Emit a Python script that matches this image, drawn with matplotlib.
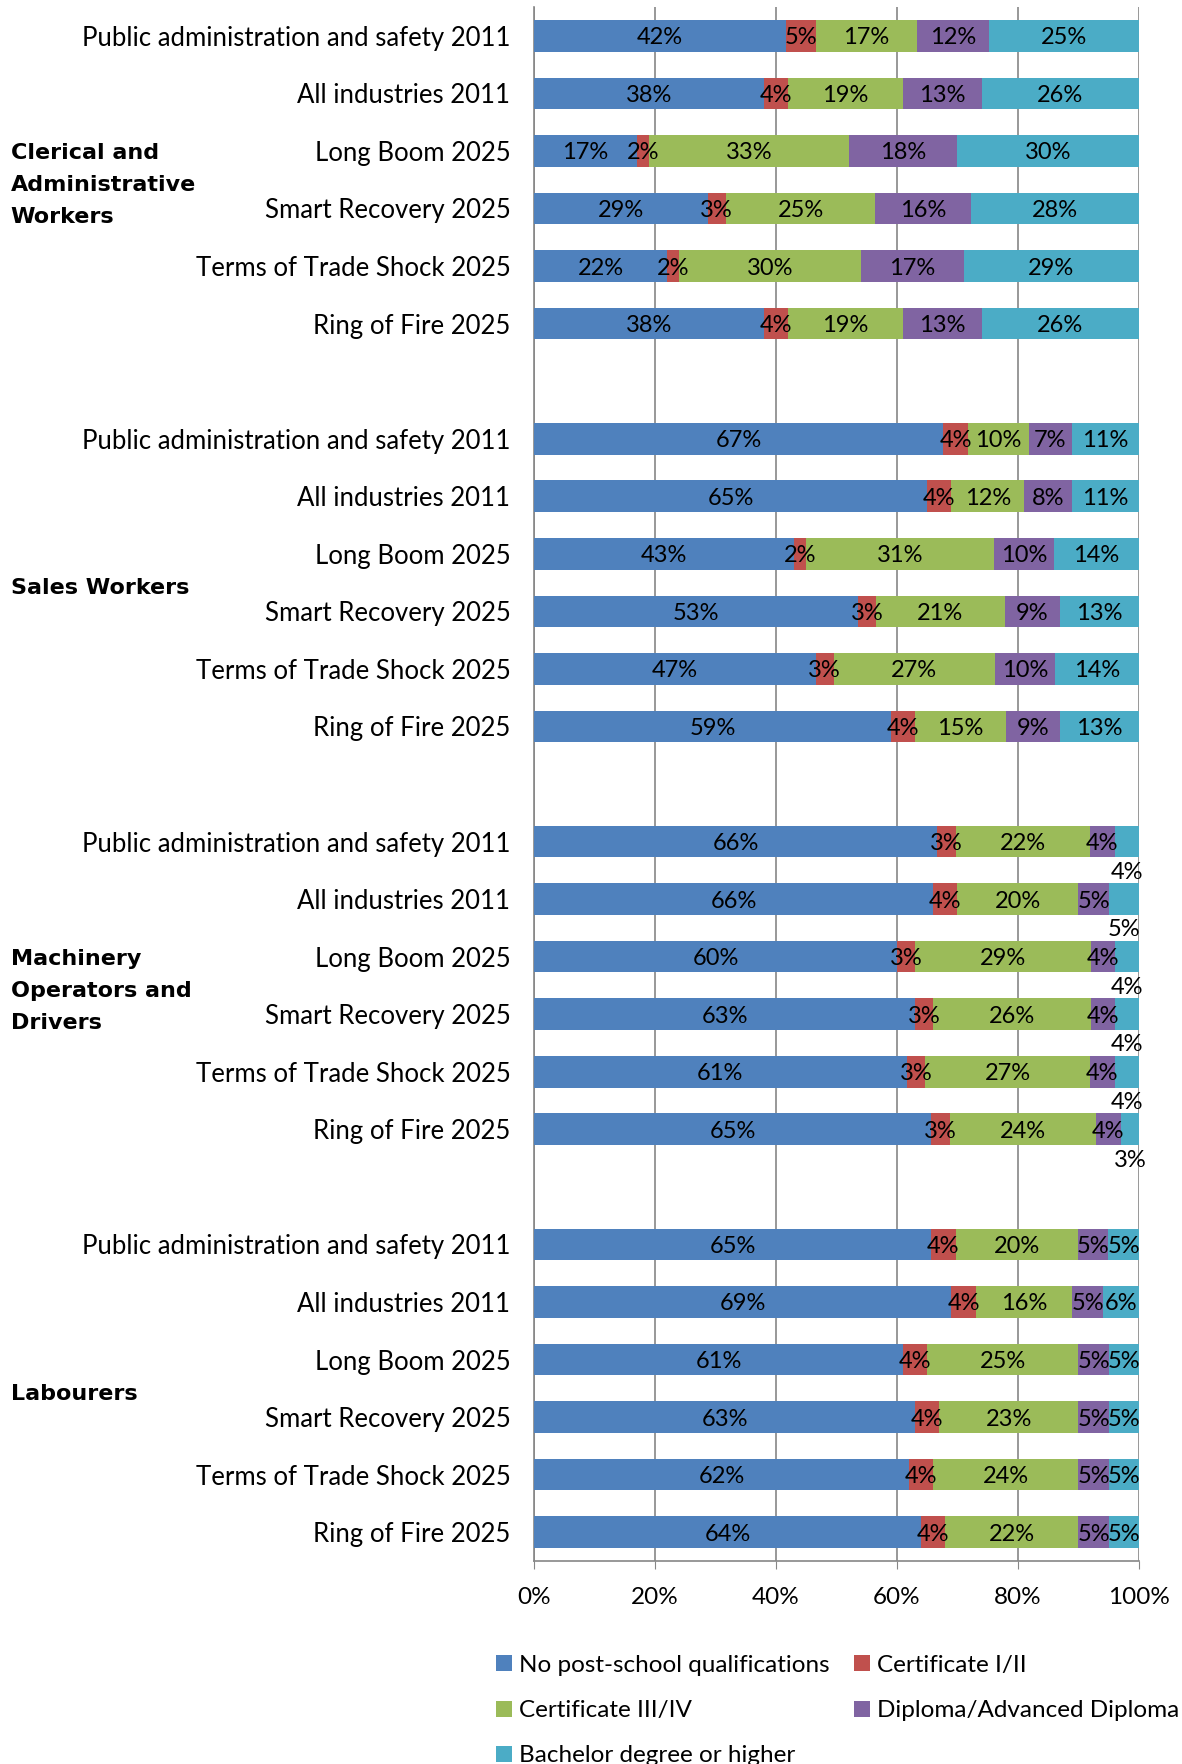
import numpy as np
import matplotlib
matplotlib.use("Agg")
import matplotlib.pyplot as plt

# categories and data (percent labels)
groups = ["Clerical and\nAdministrative\nWorkers", "Sales Workers",
          "Machinery\nOperators and\nDrivers", "Labourers"]
scenarios = ["Public administration and safety 2011", "All industries 2011",
             "Long Boom 2025", "Smart Recovery 2025",
             "Terms of Trade Shock 2025", "Ring of Fire 2025"]
series = ["No post-school qualifications", "Certificate I/II",
          "Certificate III/IV", "Diploma/Advanced Diploma",
          "Bachelor degree or higher"]
colors = ["#4F81BD", "#C0504D", "#9BBB59", "#8064A2", "#4BACC6"]

clerical = [[42, 5, 17, 12, 25],
            [38, 4, 19, 13, 26],
            [17, 2, 33, 18, 30],
            [29, 3, 25, 16, 28],
            [22, 2, 30, 17, 29],
            [38, 4, 19, 13, 26]]
sales = [[67, 4, 10, 7, 11],
         [65, 4, 12, 8, 11],
         [43, 2, 31, 10, 14],
         [53, 3, 21, 9, 13],
         [47, 3, 27, 10, 14],
         [59, 4, 15, 9, 13]]
machinery = [[66, 3, 22, 4, 4],
             [66, 4, 20, 5, 5],
             [60, 3, 29, 4, 4],
             [63, 3, 26, 4, 4],
             [61, 3, 27, 4, 4],
             [65, 3, 24, 4, 3]]
labourers = [[65, 4, 20, 5, 5],
             [69, 4, 16, 5, 6],
             [61, 4, 25, 5, 5],
             [63, 4, 23, 5, 5],
             [62, 4, 24, 5, 5],
             [64, 4, 22, 5, 5]]
all_data = [clerical, sales, machinery, labourers]

plt.rcParams['font.family'] = ['Lato', 'DejaVu Sans']

fig = plt.figure(figsize=(11.82, 17.64), dpi=100)
ax = fig.add_axes([0.4518, 0.1151, 0.5118, 0.8809])

fs_cat = 18.5
fs_val = 17
bar_h = 0.55
ypos_all = []
for g, data in enumerate(all_data):
    data = np.array(data, dtype=float)
    shares = data / data.sum(axis=1, keepdims=True)
    ys = np.arange(6) + g * 7
    ypos_all.extend(ys)
    left = np.zeros(6)
    for s in range(5):
        ax.barh(ys, shares[:, s], left=left, height=bar_h, color=colors[s],
                edgecolor="none", zorder=3, label=series[s] if g == 0 else None)
        for i in range(6):
            cx = left[i] + shares[i, s] / 2
            cy = ys[i]
            if g == 2 and s == 4:
                # small bachelor labels sit below the bar in this group
                cy = ys[i] + 0.5
            ax.text(cx, cy, f"{int(data[i, s])}%", ha="center",
                    va="center_baseline", fontsize=fs_val, color="black",
                    zorder=4)
        left += shares[:, s]
    # group label
    ax.text(-0.865, g * 7 + 2.6, groups[g], transform=ax.transData,
            ha="left", va="center", fontsize=16, fontweight="bold",
            family="DejaVu Sans", linespacing=1.75, clip_on=False)

ax.set_yticks(ypos_all)
ax.set_yticklabels(scenarios * 4, fontsize=fs_cat)
ax.tick_params(axis="y", length=0, pad=17)
ax.set_ylim(26.5, -0.5)
ax.set_xlim(0, 1)
ax.set_xticks(np.linspace(0, 1, 6))
ax.set_xticklabels(["0%", "20%", "40%", "60%", "80%", "100%"], fontsize=17.5)
ax.tick_params(axis="x", length=6, color="#868686", pad=13)
ax.grid(axis="x", color="#868686", linewidth=1.2, zorder=0)
for sp in ["top", "right"]:
    ax.spines[sp].set_visible(False)
for sp in ["left", "bottom"]:
    ax.spines[sp].set_color("#868686")
    ax.spines[sp].set_linewidth(1.2)

handles, labels = ax.get_legend_handles_labels()
order = [0, 2, 4, 1, 3]
fig.legend([handles[i] for i in order], [labels[i] for i in order],
           loc="upper left", bbox_to_anchor=(0.405, 0.0715), ncol=2,
           frameon=False, fontsize=17.5, handlelength=0.65, handleheight=0.65,
           handletextpad=0.3, columnspacing=1.0, labelspacing=1.0,
           borderpad=0.2)

fig.savefig("out.png", dpi=100)
